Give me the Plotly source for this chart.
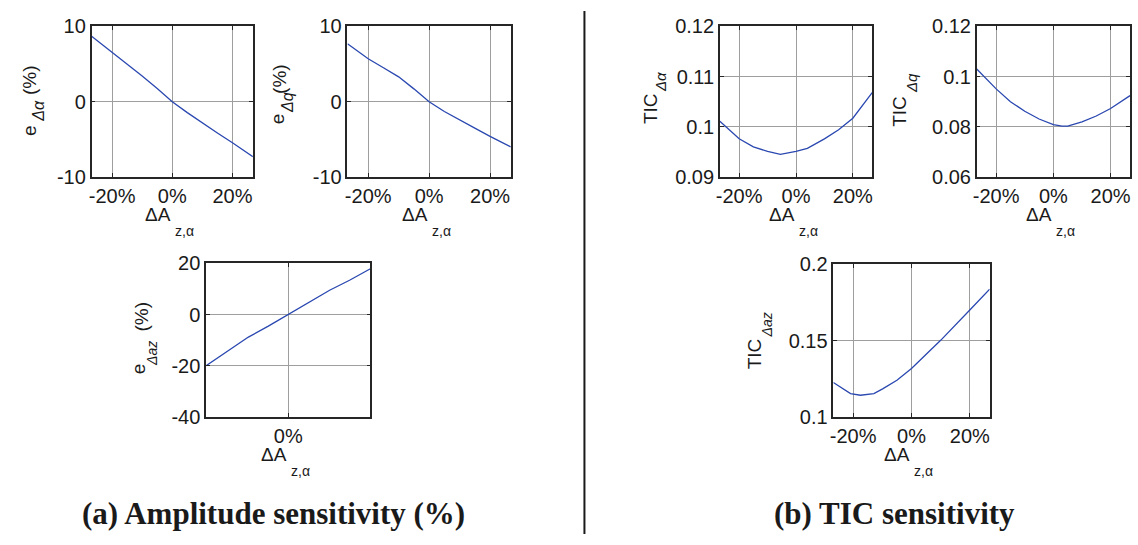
import plotly.graph_objects as go

W, H = 1138, 545

# ---- data: amplitude error (%) and TIC versus the ΔA_z,α perturbation (%) ----
X_E_ALPHA = [-26.8, -20, -15, -10, -5, 0, 5, 10, 15, 20, 26.8]
E_ALPHA = [8.7, 6.6, 4.95, 3.4, 1.75, 0.0, -1.45, -2.85, -4.15, -5.45, -7.3]

X_E_Q = [-26.8, -20, -15, -10, -5, 0, 5, 10, 15, 20, 26.8]
E_Q = [7.7, 5.7, 4.5, 3.3, 1.7, 0.0, -1.3, -2.45, -3.5, -4.6, -6.0]

X_E_AZ = [-26.8, -20, -13, -6.5, 0, 6.5, 13.5, 20, 26.8]
E_AZ = [-20.0, -14.4, -8.8, -4.5, 0.0, 4.6, 9.5, 13.4, 17.9]

X_TIC_ALPHA = [-26.8, -20, -15, -10, -5.5, 0, 4, 10, 15, 20, 26.8]
TIC_ALPHA = [0.1011, 0.0976, 0.0960, 0.0951, 0.0945, 0.0951, 0.0957, 0.0976, 0.0994, 0.1017, 0.1068]

X_TIC_Q = [-26.8, -20, -15, -10, -5, 0, 3, 5, 10, 15, 20, 26.8]
TIC_Q = [0.1030, 0.0951, 0.0900, 0.0862, 0.0831, 0.0809, 0.0803, 0.0803, 0.0820, 0.0843, 0.0873, 0.0924]

X_TIC_AZ = [-26.8, -20.9, -17.5, -12.9, -9.9, -5, 0, 10, 20, 26.8]
TIC_AZ = [0.1226, 0.1153, 0.1142, 0.1153, 0.1184, 0.1240, 0.1318, 0.1502, 0.1701, 0.1837]

# tick values / labels
X_TICKS = [-20, 0, 20]
X_TICK_TEXT = ["-20%", "0%", "20%"]
X_TICKS_AZ = [0]
X_TICK_TEXT_AZ = ["0%"]
Y_TICKS_E = [-10, 0, 10]
Y_TICK_TEXT_E = ["-10", "0", "10"]
Y_TICKS_E_AZ = [-40, -20, 0, 20]
Y_TICK_TEXT_E_AZ = ["-40", "-20", "0", "20"]
Y_TICKS_TIC_ALPHA = [0.09, 0.10, 0.11, 0.12]
Y_TICK_TEXT_TIC_ALPHA = ["0.09", "0.1", "0.11", "0.12"]
Y_TICKS_TIC_Q = [0.06, 0.08, 0.10, 0.12]
Y_TICK_TEXT_TIC_Q = ["0.06", "0.08", "0.1", "0.12"]
Y_TICKS_TIC_AZ = [0.10, 0.15, 0.20]
Y_TICK_TEXT_TIC_AZ = ["0.1", "0.15", "0.2"]

SANS = "Liberation Sans, Arial, Helvetica, sans-serif"
SERIF = "Liberation Serif, Times New Roman, serif"
INK = "#1a1a1a"
LINE_BLUE = "#2a48b0"


def fx(x):
    return x / W


def fy(y):
    return 1 - y / H


# panel boxes in pixels: x0, x1, y_top, y_bottom
panels = [
    dict(box=(88, 250, 16, 173), x=X_E_ALPHA, y=E_ALPHA, yr=[-10, 10],
         yt=Y_TICKS_E, ytt=Y_TICK_TEXT_E, xt=X_TICKS, xtt=X_TICK_TEXT),
    dict(box=(345, 509, 16, 173), x=X_E_Q, y=E_Q, yr=[-10, 10],
         yt=Y_TICKS_E, ytt=Y_TICK_TEXT_E, xt=X_TICKS, xtt=X_TICK_TEXT),
    dict(box=(203, 368, 263, 423), x=X_E_AZ, y=E_AZ, yr=[-40, 20],
         yt=Y_TICKS_E_AZ, ytt=Y_TICK_TEXT_E_AZ, xt=X_TICKS_AZ, xtt=X_TICK_TEXT_AZ),
    dict(box=(719, 872, 16, 173), x=X_TIC_ALPHA, y=TIC_ALPHA, yr=[0.09, 0.12],
         yt=Y_TICKS_TIC_ALPHA, ytt=Y_TICK_TEXT_TIC_ALPHA, xt=X_TICKS, xtt=X_TICK_TEXT),
    dict(box=(977, 1131, 16, 173), x=X_TIC_Q, y=TIC_Q, yr=[0.06, 0.12],
         yt=Y_TICKS_TIC_Q, ytt=Y_TICK_TEXT_TIC_Q, xt=X_TICKS, xtt=X_TICK_TEXT),
    dict(box=(833, 990, 264, 423), x=X_TIC_AZ, y=TIC_AZ, yr=[0.10, 0.20],
         yt=Y_TICKS_TIC_AZ, ytt=Y_TICK_TEXT_TIC_AZ, xt=X_TICKS, xtt=X_TICK_TEXT),
]

fig = go.Figure()

axis_style = dict(
    showline=True, linecolor="#262626", linewidth=1.5, mirror="ticks",
    ticks="inside", ticklen=4, tickwidth=1, tickcolor="#262626",
    showgrid=True, gridcolor="#9e9e9e", gridwidth=1, zeroline=False,
    tickfont=dict(family=SANS, size=20, color=INK),
)

layout = {}
for i, p in enumerate(panels, start=1):
    x0, x1, yt_, yb_ = p["box"]
    xa = "xaxis" if i == 1 else f"xaxis{i}"
    ya = "yaxis" if i == 1 else f"yaxis{i}"
    layout[xa] = dict(axis_style, domain=[fx(x0), fx(x1)], anchor=f"y{i}" if i > 1 else "y",
                      range=[p["x"][0], p["x"][-1]], tickmode="array",
                      tickvals=p["xt"], ticktext=p["xtt"], ticklabelstandoff=0)
    layout[ya] = dict(axis_style, domain=[fy(yb_), fy(yt_)], anchor=f"x{i}" if i > 1 else "x",
                      range=p["yr"], tickmode="array", tickvals=p["yt"], ticktext=p["ytt"])
    fig.add_trace(go.Scatter(x=p["x"], y=p["y"], mode="lines",
                             line=dict(color=LINE_BLUE, width=1.3),
                             xaxis=f"x{i}" if i > 1 else "x",
                             yaxis=f"y{i}" if i > 1 else "y",
                             showlegend=False, hoverinfo="skip"))

annotations = []


def note(text, x, y, size, angle=0, family=SANS, xanchor="center"):
    annotations.append(dict(text=text, x=fx(x), y=fy(y), xref="paper", yref="paper",
                            xanchor=xanchor, yanchor="middle", showarrow=False,
                            textangle=angle, font=dict(family=family, size=size, color=INK)))


# x-axis labels: ΔA with a dropped subscript z,α
for cx, cy in [(169, 212), (427, 212), (285, 462), (796, 212), (1054, 212), (911, 462)]:
    note("ΔA", cx + 1, cy, 19, xanchor="right")
    note("z,α", cx + 1, cy + 17, 14, xanchor="left")

# y-axis labels: e_Δ… (%)
note("e", 26, 124, 19, -90)
note("<i>Δα</i>", 35, 104, 16, -90)
note("(%)", 25, 72, 19, -90)

note("e", 275, 112, 19, -90)
note("<i>Δq</i>", 284, 95, 16, -90)
note("(%)", 276, 71, 19, -90)

note("e", 136, 373, 19, -90)
note("<i>Δaz</i>", 148, 357, 14, -90)
note("(%)", 138, 318, 19, -90)

# y-axis labels: TIC_Δ…
note("TIC", 650, 102, 19, -90)
note("<i>Δα</i>", 659, 74, 15, -90)

note("TIC", 900, 105, 19, -90)
note("<i>Δq</i>", 912, 75, 15, -90)

note("TIC", 754, 357, 19, -90)
note("<i>Δaz</i>", 766, 327, 14, -90)

# group captions
note("<b>(a) Amplitude sensitivity (%)</b>", 271, 523.5, 31, family=SERIF)
note("<b>(b) TIC sensitivity</b>", 894, 523.5, 31, family=SERIF)

fig.update_layout(
    width=W, height=H,
    margin=dict(l=0, r=0, t=0, b=0),
    paper_bgcolor="white", plot_bgcolor="white",
    showlegend=False,
    annotations=annotations,
    shapes=[dict(type="line", xref="paper", yref="paper",
                 x0=fx(583), x1=fx(583), y0=0, y1=1,
                 line=dict(color=INK, width=2))],
    **layout,
)

fig.write_html("out.html")
